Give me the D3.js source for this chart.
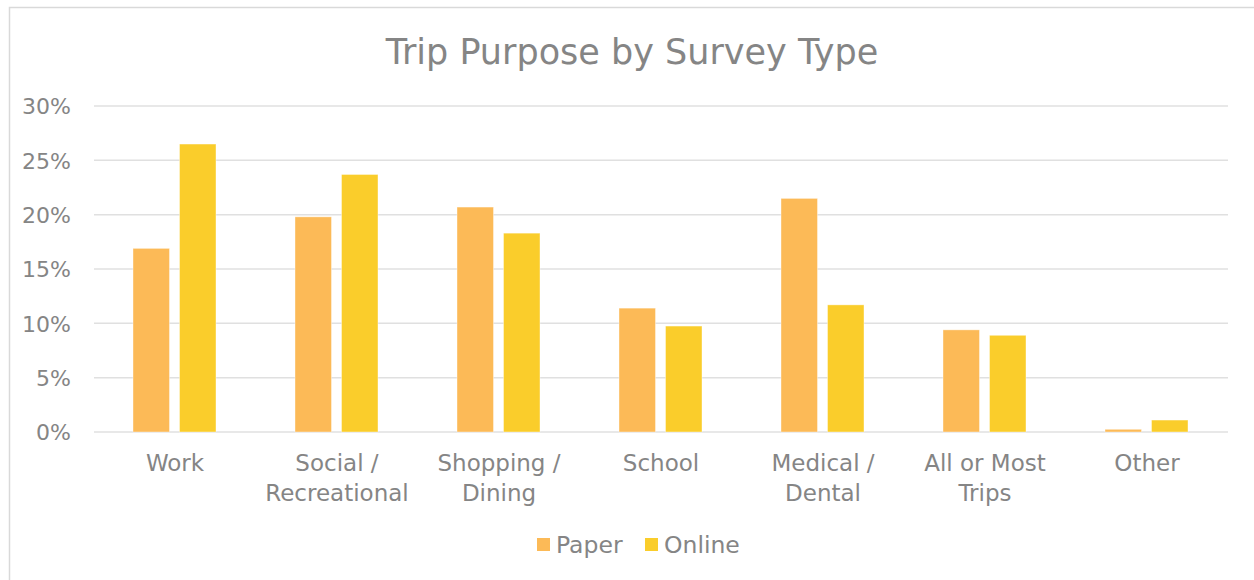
<!DOCTYPE html>
<html><head><meta charset="utf-8">
<script src="https://cdn.jsdelivr.net/npm/d3@7"></script>
<style>body{margin:0;background:#fff}svg{display:block}</style>
</head><body>
<svg id="c" width="1254" height="580"></svg>
<script>
const categories = [["Work"],["Social /","Recreational"],["Shopping /","Dining"],["School"],["Medical /","Dental"],["All or Most","Trips"],["Other"]];
const seriesNames = ["Paper","Online"];
const paper  = [16.9, 19.8, 20.7, 11.4, 21.5, 9.4, 0.25];
const online = [26.5, 23.7, 18.3, 9.75, 11.7, 8.9, 1.1];
const yTicks = [0,5,10,15,20,25,30];
const colors = ["#FCBA57","#FACD2B"];
const chartTitle = "Trip Purpose by Survey Type";

(function(){
const font = "'DejaVu Sans', sans-serif";
const textColor = "#858585";
const svg = d3.select("#c");

svg.append("rect").attr("x",9.5).attr("y",7.5).attr("width",1260).attr("height",600)
  .attr("fill","#fff").attr("stroke","#d9d9d9").attr("stroke-width",1.5);

svg.append("text").attr("x",632).attr("y",64).attr("text-anchor","middle")
  .attr("font-family",font).attr("font-size",35).attr("fill",textColor).text(chartTitle);

const pL=94, pR=1228, pT=106, pB=432;
const x = d3.scaleBand().domain(d3.range(categories.length)).range([pL,pR]);
const y = d3.scaleLinear().domain([0,30]).range([pB,pT]);

svg.append("g").selectAll("line").data(yTicks).join("line")
  .attr("x1",pL).attr("x2",pR).attr("y1",d=>y(d)).attr("y2",d=>y(d))
  .attr("stroke","#e0e0e0").attr("stroke-width",1.5);

const yAxis = d3.axisLeft(y).tickValues(yTicks).tickFormat(d=>d+"%").tickSize(0).tickPadding(0);
const ga = svg.append("g").attr("transform",`translate(71,0)`).call(yAxis);
ga.select(".domain").remove();
ga.selectAll("text").attr("font-family",font).attr("font-size",22).attr("fill",textColor).attr("dy","0.36em");

const bw = 36.5, gap = 10;
[paper, online].forEach((vals,si)=>{
  svg.append("g").selectAll("rect").data(vals).join("rect")
    .attr("x",(d,i)=>x(i)+x.bandwidth()/2 - (bw+gap/2) + si*(bw+gap) - 0.5)
    .attr("width",bw)
    .attr("y",d=>y(d)).attr("height",d=>pB-y(d))
    .attr("fill",colors[si]).attr("stroke","#fff").attr("stroke-opacity",0.5).attr("stroke-width",0.8);
});

const cg = svg.append("g");
categories.forEach((lines,i)=>{
  const t = cg.append("text").attr("text-anchor","middle").attr("font-family",font)
    .attr("font-size",23).attr("fill",textColor);
  lines.forEach((ln,j)=>{
    t.append("tspan").attr("x",x(i)+x.bandwidth()/2).attr("y",471+j*30).text(ln);
  });
});

const lg = svg.append("g");
const legX = [537, 645];
seriesNames.forEach((n,i)=>{
  lg.append("rect").attr("x",legX[i]).attr("y",538).attr("width",13).attr("height",13).attr("fill",colors[i]);
  lg.append("text").attr("x",legX[i]+19).attr("y",553).attr("font-family",font)
    .attr("font-size",23.5).attr("fill",textColor).text(n);
});
})();
</script>
</body></html>
